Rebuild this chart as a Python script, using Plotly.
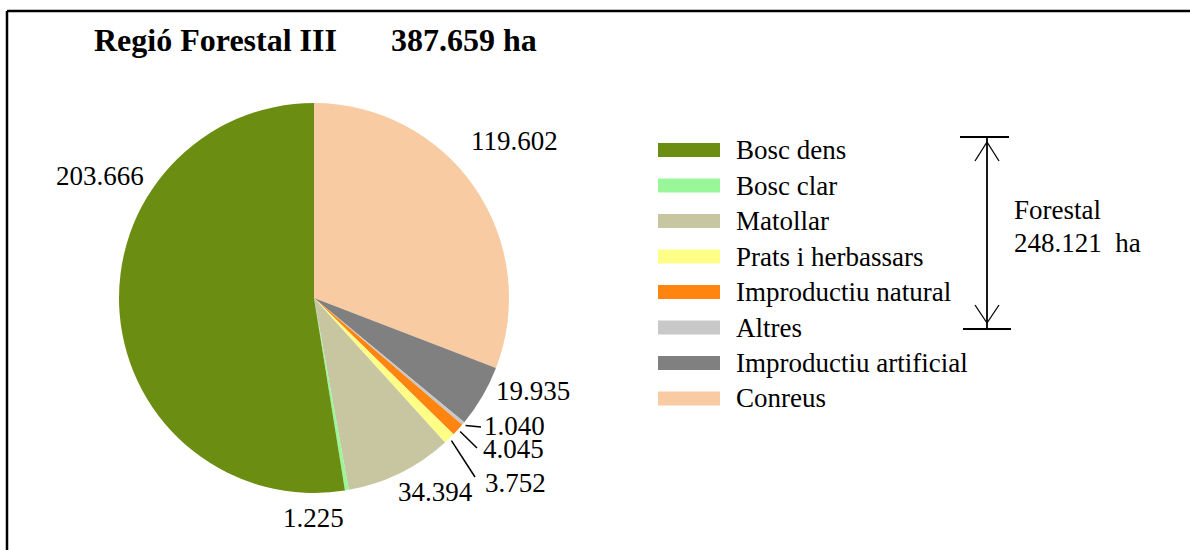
import plotly.graph_objects as go
import math

# ---------------- data ----------------
categories = ["Bosc dens", "Bosc clar", "Matollar", "Prats i herbassars",
              "Improductiu natural", "Altres", "Improductiu artificial", "Conreus"]
values = [203666, 1225, 34394, 3752, 4045, 1040, 19935, 119602]
forestal_total = 248121
title_text = "Regió Forestal III"
colors = ["#6B8E12", "#99F799", "#C8C6A0", "#FFFF88",
          "#FF8410", "#C8C8C8", "#808080", "#F8CBA2"]


def fmt(v):
    return f"{v:,}".replace(",", ".")


total = sum(values)
value_labels = [fmt(v) for v in values]

# ---------------- layout helpers ----------------
W, H = 1190, 550
CX, CY, R = 314, 298, 195


def X(px):
    return px / W


def Y(py):
    return 1 - py / H


FONT = "Liberation Serif"

fig = go.Figure()
# slices run counter-clockwise from 12 o'clock in the reference:
# drawn clockwise with the order reversed gives the same layout
fig.add_trace(go.Pie(
    labels=categories[::-1], values=values[::-1], sort=False,
    direction="clockwise", rotation=0,
    marker=dict(colors=colors[::-1], line=dict(width=0)),
    textinfo="none", showlegend=False, hoverinfo="label+value",
    domain=dict(x=[X(CX - R), X(CX + R)], y=[Y(CY + R), Y(CY - R)]),
))

annotations = []
shapes = []

# title
annotations.append(dict(text="<b>" + title_text + "</b>", x=X(92), y=Y(40), xref="paper", yref="paper",
                        xanchor="left", yanchor="middle", showarrow=False,
                        font=dict(family=FONT, size=32, color="black")))
annotations.append(dict(text="<b>" + fmt(total) + " ha</b>", x=X(389), y=Y(40), xref="paper", yref="paper",
                        xanchor="left", yanchor="middle", showarrow=False,
                        font=dict(family=FONT, size=32, color="black")))

# value label placement (pixel centres) - layout only
label_px = {0: (100, 176), 1: (313, 518), 2: (435, 492), 3: (515, 482),
            4: (513, 448), 5: (514, 425), 6: (533, 391), 7: (514, 141)}
leader_end = {3: (475, 477), 4: (477, 448), 5: (481, 427)}

cum = 0.0
for i, v in enumerate(values):
    frac = v / total
    mid = (cum + frac / 2) * 360.0
    cum += frac
    lx, ly = label_px[i]
    ann = dict(text=value_labels[i], x=X(lx), y=Y(ly), xref="paper", yref="paper",
               xanchor="center", yanchor="middle", showarrow=False,
               font=dict(family=FONT, size=27, color="black"))
    if i in leader_end:
        ann["height"] = 21
        ann["valign"] = "middle"
    annotations.append(ann)
    if i in leader_end:
        th = math.radians(mid)
        sx = CX - (R + 3) * math.sin(th)
        sy = CY - (R + 3) * math.cos(th)
        ex, ey = leader_end[i]
        shapes.append(dict(type="line", xref="paper", yref="paper",
                           x0=X(sx), y0=Y(sy), x1=X(ex), y1=Y(ey),
                           line=dict(color="black", width=1.5)))

# legend (manual)
row0, step = 150, 35.5
for i, cat in enumerate(categories):
    yc = row0 + i * step
    shapes.append(dict(type="rect", xref="paper", yref="paper",
                       x0=X(658), x1=X(720), y0=Y(yc + 7), y1=Y(yc - 7),
                       fillcolor=colors[i], line=dict(width=0)))
    annotations.append(dict(text=cat, x=X(734), y=Y(yc), xref="paper", yref="paper",
                            xanchor="left", yanchor="middle", showarrow=False,
                            font=dict(family=FONT, size=27, color="black")))


# Forestal bracket
def line(x0, y0, x1, y1, w=2):
    shapes.append(dict(type="line", xref="paper", yref="paper",
                       x0=X(x0), y0=Y(y0), x1=X(x1), y1=Y(y1),
                       line=dict(color="black", width=w)))


line(960, 137, 1009, 137)
line(963, 329, 1011, 329)
line(987, 138, 987, 328, 1.8)
line(975, 161, 987, 142, 1.3)
line(999, 161, 987, 142, 1.3)
line(975, 305, 987, 323, 1.3)
line(999, 305, 987, 323, 1.3)

annotations.append(dict(text="Forestal", x=X(1012), y=Y(210),
                        xref="paper", yref="paper", xanchor="left", yanchor="middle",
                        showarrow=False, font=dict(family=FONT, size=27, color="black")))
annotations.append(dict(text=fmt(forestal_total) + "  ha", x=X(1012), y=Y(243),
                        xref="paper", yref="paper", xanchor="left", yanchor="middle",
                        showarrow=False, font=dict(family=FONT, size=27, color="black")))

# frame
line(7, 11, 1190, 11, 2.5)
line(7, 11, 7, 550, 2.5)

fig.update_layout(width=W, height=H, margin=dict(l=0, r=0, t=0, b=0),
                  paper_bgcolor="white", plot_bgcolor="white",
                  annotations=annotations, shapes=shapes)

fig.write_html("out.html", config={"displayModeBar": False},
               post_script="document.body.style.margin='0px';")
